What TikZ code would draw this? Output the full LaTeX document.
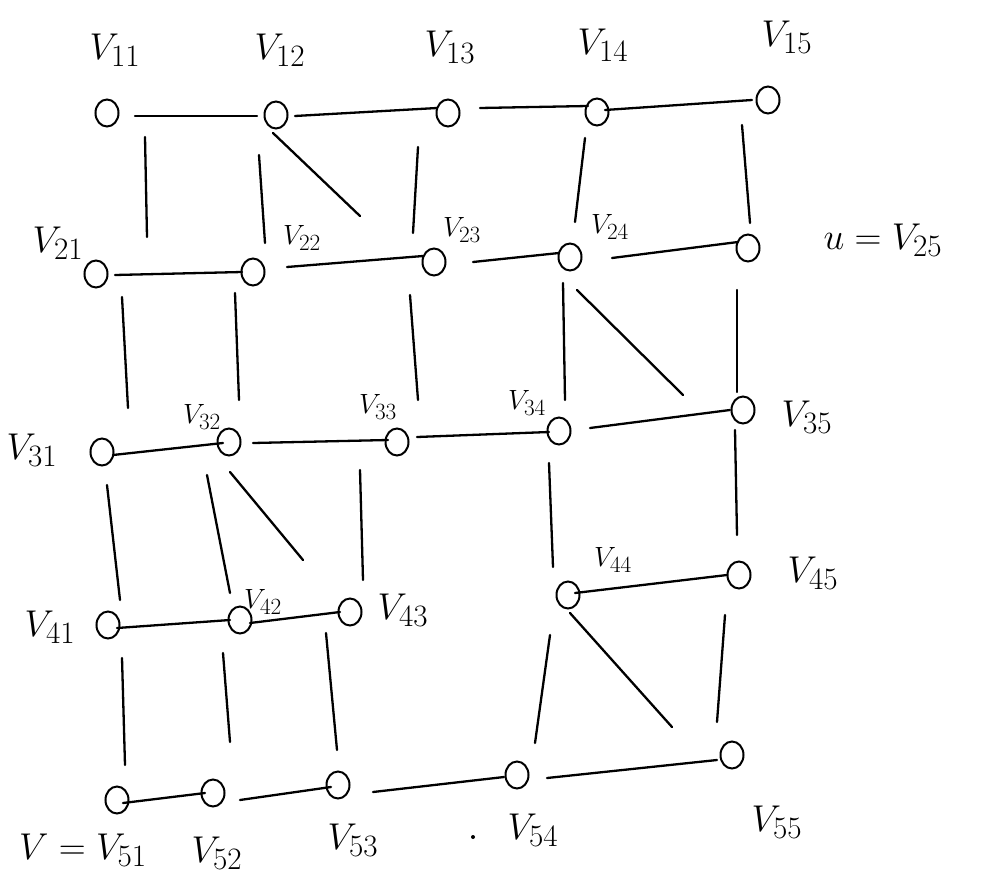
\documentclass[tikz,border=0pt]{standalone}
\usetikzlibrary{shapes.geometric}
\newcommand\grlink[5][]{\draw[edge,#1] ([shift={(#3)}]#2.center) -- ([shift={(#5)}]#4.center);}
\begin{document}
\begin{tikzpicture}[x=1pt,y=-1pt,
 vtx/.style={draw,ellipse,line width=2pt,minimum width=23pt,minimum height=27pt,inner sep=0pt},
 edge/.style={line width=2.3pt,line cap=round},
 lbl/.style={font=\Huge,scale=1.5,inner sep=0pt},
 slbl/.style={font=\Huge,scale=1.12,inner sep=0pt}]
\useasboundingbox (0,0) rectangle (981,888);
% vertices
\node[vtx] (n11) at (107,113) {};
\node[vtx] (n12) at (276,115) {};
\node[vtx] (n13) at (448,113) {};
\node[vtx] (n14) at (597,112) {};
\node[vtx] (n15) at (768,100) {};
\node[vtx] (n21) at (96,274) {};
\node[vtx] (n22) at (253,272) {};
\node[vtx] (n23) at (434,262) {};
\node[vtx] (n24) at (570,257) {};
\node[vtx] (n25) at (748,248) {};
\node[vtx] (n31) at (102,452) {};
\node[vtx] (n32) at (229,442) {};
\node[vtx] (n33) at (397,442) {};
\node[vtx] (n34) at (559,431) {};
\node[vtx] (n35) at (743,410) {};
\node[vtx] (n41) at (108,625) {};
\node[vtx] (n42) at (240,620) {};
\node[vtx] (n43) at (350,612) {};
\node[vtx] (n44) at (568,595) {};
\node[vtx] (n45) at (739,575) {};
\node[vtx] (n51) at (117,800) {};
\node[vtx] (n52) at (213,793) {};
\node[vtx] (n53) at (338,785) {};
\node[vtx] (n54) at (517,775) {};
\node[vtx] (n55) at (732,755) {};
% labels
\node[lbl] (l11) at (115,50) {$V_{11}$};
\node[lbl] (l12) at (280,50) {$V_{12}$};
\node[lbl] (l13) at (450,47) {$V_{13}$};
\node[lbl] (l14) at (603,45) {$V_{14}$};
\node[lbl] (l15) at (787,37) {$V_{15}$};
\node[lbl] (l21) at (58,243) {$V_{21}$};
\node[slbl] (l22) at (302,238) {$V_{22}$};
\node[slbl] (l23) at (462,230) {$V_{23}$};
\node[slbl] (l24) at (610,227) {$V_{24}$};
\node[lbl] (l25) at (883,240) {$u=V_{25}$};
\node[lbl] (l31) at (32,450) {$V_{31}$};
\node[slbl] (l32) at (202,417) {$V_{32}$};
\node[slbl] (l33) at (378,407) {$V_{33}$};
\node[slbl] (l34) at (527,403) {$V_{34}$};
\node[lbl] (l35) at (807,417) {$V_{35}$};
\node[lbl] (l41) at (50,627) {$V_{41}$};
\node[slbl] (l42) at (263,602) {$V_{42}$};
\node[lbl] (l43) at (403,610) {$V_{43}$};
\node[slbl] (l44) at (613,560) {$V_{44}$};
\node[lbl] (l45) at (813,573) {$V_{45}$};
\node[lbl] (l51) at (83,850) {$V=V_{51}$};
\node[lbl] (l52) at (217,853) {$V_{52}$};
\node[lbl] (l53) at (353,840) {$V_{53}$};
\node[lbl] (l54) at (533,830) {$V_{54}$};
\node[lbl] (l55) at (777,822) {$V_{55}$};
\node[circle,fill,inner sep=0pt,minimum size=4pt] (dot) at (473,837) {};
% horizontal edges
\grlink{n11}{28,3}{n12}{-19,1}
\grlink{n12}{19,1}{n13}{-11,-5}
\grlink{n13}{32,-5}{n14}{-9,-6}
\grlink{n14}{8,-2}{n15}{-16,0}
\grlink{n21}{19,1}{n22}{-11,0}
\grlink{n22}{34,-5}{n23}{-11,-6}
\grlink{n23}{39,0}{n24}{-11,-4}
\grlink{n24}{42,1}{n25}{-10,-6}
\grlink{n31}{11,3}{n32}{-6,1}
\grlink{n32}{24,1}{n33}{-9,-2}
\grlink{n33}{20,-5}{n34}{-10,1}
\grlink{n34}{31,-3}{n35}{-13,0}
\grlink{n41}{9,3}{n42}{-10,0}
\grlink{n42}{10,3}{n43}{-10,0}
\grlink{n44}{7,-2}{n45}{-12,0}
\grlink{n51}{6,3}{n52}{-8,0}
\grlink{n52}{27,7}{n53}{-7,2}
\grlink{n53}{35,7}{n54}{-13,2}
\grlink{n54}{30,3}{n55}{-15,5}
% vertical edges
\grlink{n11}{38,24}{n21}{51,-37}
\grlink{n12}{-17,40}{n22}{12,-29}
\grlink[bend right=6]{n13}{-30,34}{n23}{-21,-29}
\grlink{n14}{-12,26}{n24}{5,-35}
\grlink[bend left=6]{n15}{-26,25}{n25}{2,-25}
\grlink{n21}{26,23}{n31}{26,-44}
\grlink{n22}{-18,21}{n32}{10,-42}
\grlink{n23}{-24,33}{n33}{21,-42}
\grlink{n24}{-7,26}{n34}{6,-31}
\grlink{n25}{-11,42}{n35}{-6,-18}
\grlink[bend right=8]{n31}{5,33}{n41}{12,-25}
\grlink{n32}{-22,33}{n42}{-10,-27}
\grlink{n33}{-37,28}{n43}{13,-32}
\grlink{n34}{-10,32}{n44}{-15,-28}
\grlink{n35}{-8,20}{n45}{-2,-40}
\grlink{n41}{14,33}{n51}{8,-35}
\grlink{n42}{-17,33}{n52}{17,-51}
\grlink[bend right=5]{n43}{-24,21}{n53}{-1,-35}
\grlink{n44}{-18,40}{n54}{18,-32}
\grlink[bend right=6]{n45}{-14,40}{n55}{-15,-33}
% diagonal edges
\grlink[bend left=6]{n12}{-3,18}{n23}{-74,-46}
\grlink[bend right=8]{n24}{7,33}{n35}{-60,-15}
\grlink[bend right=6]{n32}{1,30}{n43}{-47,-52}
\grlink[bend right=4]{n44}{2,18}{n55}{-60,-28}
\end{tikzpicture}
\end{document}
